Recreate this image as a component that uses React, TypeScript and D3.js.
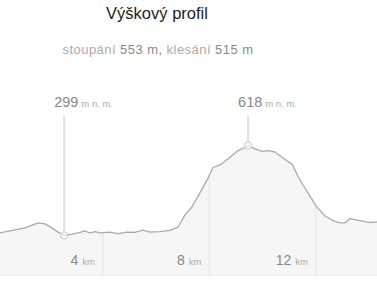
import React from "react";
import * as d3 from "d3";

const distanceKm = [0, 0.51, 1.07, 1.56, 1.82, 2.08, 2.31, 2.54, 2.84, 3.14, 3.32, 3.51, 3.7, 3.89, 4.26, 4.56, 4.9, 5.2, 5.5, 5.77, 6.14, 6.52, 6.82, 7.08, 7.34, 7.64, 7.91, 8.13, 8.39, 8.69, 9.07, 9.33, 9.45, 9.71, 9.97, 10.2, 10.46, 10.76, 11.1, 11.32, 11.51, 11.7, 12.0, 12.34, 12.64, 12.9, 13.09, 13.28, 13.65, 14.03, 14.29];
const elevationM = [306, 315, 326, 344, 340, 326, 311, 299, 304, 310, 315, 308, 313, 308, 311, 306, 311, 310, 318, 311, 313, 317, 329, 372, 400, 450, 496, 540, 549, 570, 600, 611, 618, 606, 597, 600, 595, 574, 552, 510, 478, 450, 404, 368, 352, 344, 344, 359, 352, 345, 347];
const tickKm = [4, 8, 12];
const title = "Výškový profil";
const ascentM = 553;
const descentM = 515;
const minLabel = { km: 2.54, elev: 299 };
const maxLabel = { km: 9.45, elev: 618 };

const W = 377;
const H = 282;
const FONT = "'Liberation Sans', Arial, Helvetica, sans-serif";

export default function App() {
  const x = d3.scaleLinear().domain([0, 4]).range([-3.5, 103]);
  const y = d3.scaleLinear().domain([299, 618]).range([235.5, 145.5]);
  const bottom = 275;
  const pts = distanceKm.map((d, i) => [d, elevationM[i]] as [number, number]);
  const line = d3.line<[number, number]>().x((d) => x(d[0])).y((d) => y(d[1])).curve(d3.curveLinear);
  const area = d3.area<[number, number]>().x((d) => x(d[0])).y0(bottom).y1((d) => y(d[1])).curve(d3.curveLinear);
  const areaD = area(pts) || "";
  const lineD = line(pts) || "";
  const markers = [minLabel, maxLabel];
  return (
    <div style={{ position: "absolute", left: 0, top: 0 }}>
      <svg width={W} height={H} style={{ display: "block", fontFamily: FONT }}>
        <defs>
          <clipPath id="areaClip">
            <path d={areaD} />
          </clipPath>
        </defs>
        <rect x={0} y={0} width={W} height={H} fill="#fff" />
        <text x={157} y={19} fontSize={16.5} fill="#222" textAnchor="middle">{title}</text>
        <text x={158} y={54} fontSize={13} letterSpacing={0.45} textAnchor="middle">
          <tspan fill="#aaa">stoupání </tspan>
          <tspan fill="#888">{ascentM} m,</tspan>
          <tspan fill="#aaa"> klesání </tspan>
          <tspan fill="#888">{descentM} m</tspan>
        </text>
        <path d={areaD} fill="#f6f6f6" />
        <g clipPath="url(#areaClip)">
          {tickKm.map((t) => (
            <line key={t} x1={x(t)} x2={x(t)} y1={0} y2={bottom} stroke="#ebebeb" strokeWidth={1.5} />
          ))}
        </g>
        <line x1={0} x2={W} y1={bottom + 0.5} y2={bottom + 0.5} stroke="#eeeeee" strokeWidth={1} />
        <path d={lineD} fill="none" stroke="#aaaaaa" strokeWidth={1.3} strokeLinejoin="round" />
        {tickKm.map((t) => (
          <text key={t} x={x(t) - 8} y={265} textAnchor="end" fill="#888">
            <tspan fontSize={14}>{t}</tspan>
            <tspan fontSize={9.5} fill="#aaa" dx={4}>km</tspan>
          </text>
        ))}
        {markers.map((m) => {
          const cx = x(m.km);
          const cy = y(m.elev);
          return (
            <g key={m.elev}>
              <line x1={cx} x2={cx} y1={116} y2={cy - 3.5} stroke="#e0e0e0" strokeWidth={2} />
              <circle cx={cx} cy={cy} r={3.5} fill="#fff" fillOpacity={0.6} stroke="#d0d0d0" strokeWidth={1.1} />
              <text x={cx - 10} y={106.5} fill="#888">
                <tspan fontSize={14.5}>{m.elev}</tspan>
                <tspan fontSize={9.5} fill="#aaa" dx={3}>m n. m.</tspan>
              </text>
            </g>
          );
        })}
      </svg>
    </div>
  );
}
